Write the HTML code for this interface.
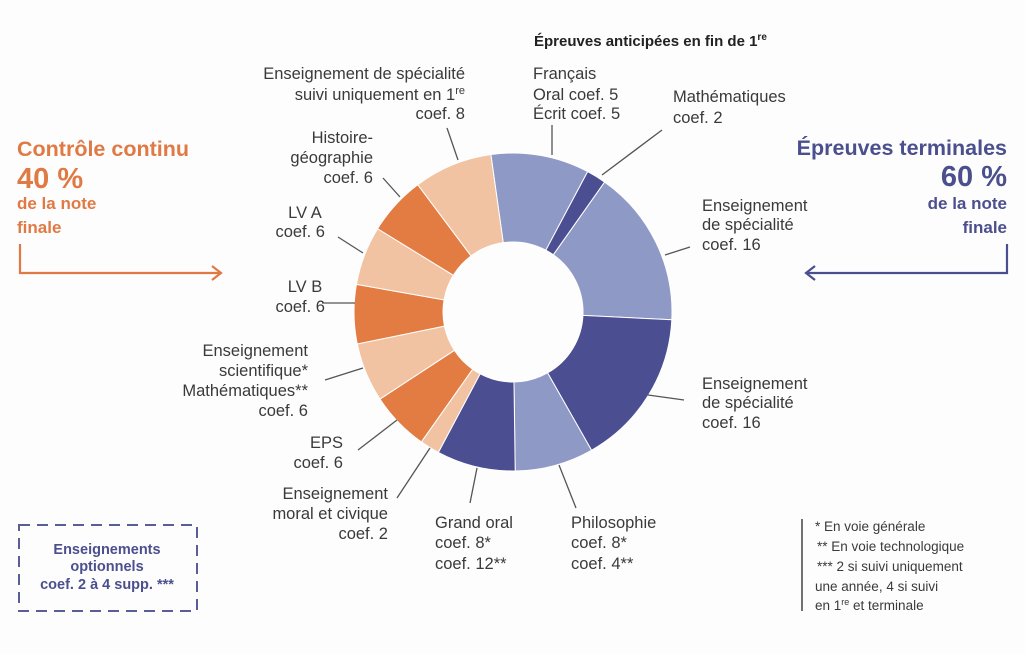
<!DOCTYPE html>
<html><head><meta charset="utf-8"><style>
html,body{margin:0;padding:0;background:#fdfdfd;}
svg{display:block;}
text{font-family:"Liberation Sans",sans-serif;}
.l{font-size:16.5px;fill:#3a3a3a;}
.f{font-size:13.5px;fill:#3a3a3a;}
.o{fill:#e07a44;font-weight:bold;}
.p{fill:#4b4f8e;font-weight:bold;}
</style></head><body>
<svg id="s" width="1025" height="654" viewBox="0 0 1025 654" xmlns="http://www.w3.org/2000/svg">
<g id="donut"></g>
<g stroke="#555" stroke-width="1.3" fill="none">
<line x1="447" y1="128" x2="458" y2="160"/>
<line x1="552" y1="125" x2="552" y2="155"/>
<line x1="662" y1="130" x2="602" y2="175"/>
<line x1="690" y1="247" x2="665" y2="255"/>
<line x1="684" y1="400" x2="648" y2="395"/>
<line x1="576" y1="508" x2="559" y2="465"/>
<line x1="470" y1="503" x2="477" y2="468"/>
<line x1="397" y1="498" x2="430" y2="448"/>
<line x1="358" y1="450" x2="397" y2="420"/>
<line x1="325" y1="380" x2="363" y2="368"/>
<line x1="322" y1="303" x2="355" y2="303"/>
<line x1="338" y1="237" x2="363" y2="253"/>
<line x1="383" y1="178" x2="400" y2="197"/>
<polyline stroke="#e07a44" stroke-width="2.2" points="20,244 20,273 220,273"/>
<polyline stroke="#e07a44" stroke-width="2.2" points="212,266 221,273 212,280"/>
<polyline stroke="#4b4f8e" stroke-width="2.2" points="1007,244 1007,273 806,273"/>
<polyline stroke="#4b4f8e" stroke-width="2.2" points="815,266 806,273 815,280"/>
<line x1="802" y1="519" x2="802" y2="611" stroke="#444" stroke-width="1.5"/>
<rect x="19" y="525" width="178" height="86" stroke="#5a5e96" stroke-width="2" stroke-dasharray="11,7"/>
</g>

<text x="534" y="46" style="font-size:15px;font-weight:bold;fill:#222">Épreuves anticipées en fin de 1<tspan font-size="10" dy="-6">re</tspan></text>

<g class="l">
<text x="465" y="79" text-anchor="end">Enseignement de spécialité</text>
<text x="465" y="100" text-anchor="end">suivi uniquement en 1<tspan font-size="11" dy="-6">re</tspan></text>
<text x="465" y="119" text-anchor="end">coef. 8</text>
<text x="533" y="79">Français</text>
<text x="533" y="100">Oral coef. 5</text>
<text x="533" y="119">Écrit coef. 5</text>
<text x="673" y="102">Mathématiques</text>
<text x="673" y="123">coef. 2</text>
<text x="373" y="143" text-anchor="end">Histoire-</text>
<text x="373" y="163" text-anchor="end">géographie</text>
<text x="373" y="183" text-anchor="end">coef. 6</text>
<text x="305" y="218" text-anchor="middle">LV A</text>
<text x="325" y="237" text-anchor="end">coef. 6</text>
<text x="305" y="292" text-anchor="middle">LV B</text>
<text x="325" y="312" text-anchor="end">coef. 6</text>
<text x="308" y="356" text-anchor="end">Enseignement</text>
<text x="308" y="376" text-anchor="end">scientifique*</text>
<text x="308" y="396" text-anchor="end">Mathématiques**</text>
<text x="308" y="416" text-anchor="end">coef. 6</text>
<text x="343" y="448" text-anchor="end">EPS</text>
<text x="343" y="468" text-anchor="end">coef. 6</text>
<text x="388" y="499" text-anchor="end">Enseignement</text>
<text x="388" y="519" text-anchor="end">moral et civique</text>
<text x="388" y="539" text-anchor="end">coef. 2</text>
<text x="435" y="528">Grand oral</text>
<text x="435" y="548">coef. 8*</text>
<text x="435" y="569">coef. 12**</text>
<text x="571" y="528">Philosophie</text>
<text x="571" y="548">coef. 8*</text>
<text x="571" y="569">coef. 4**</text>
<text x="702" y="211">Enseignement</text>
<text x="702" y="230">de spécialité</text>
<text x="702" y="250">coef. 16</text>
<text x="702" y="389">Enseignement</text>
<text x="702" y="408">de spécialité</text>
<text x="702" y="428">coef. 16</text>
</g>

<g class="f">
<text x="815" y="531">* En voie générale</text>
<text x="817" y="551">** En voie technologique</text>
<text x="817" y="571">*** 2 si suivi uniquement</text>
<text x="815" y="591">une année, 4 si suivi</text>
<text x="815" y="610">en 1<tspan font-size="9" dy="-5">re</tspan><tspan dy="5"> et terminale</tspan></text>
</g>

<text x="17" y="156" class="o" style="font-size:21.5px">Contrôle continu</text>
<text x="17" y="188" class="o" style="font-size:29px">40 %</text>
<text x="17" y="209" class="o" style="font-size:17px">de la note</text>
<text x="17" y="233" class="o" style="font-size:17px">finale</text>

<text x="1007" y="155" class="p" text-anchor="end" style="font-size:21.5px">Épreuves terminales</text>
<text x="1007" y="186" class="p" text-anchor="end" style="font-size:29px">60 %</text>
<text x="1007" y="209" class="p" text-anchor="end" style="font-size:17px">de la note</text>
<text x="1007" y="233" class="p" text-anchor="end" style="font-size:17px">finale</text>

<text x="107" y="554" class="p" text-anchor="middle" style="font-size:14.5px">Enseignements</text>
<text x="107" y="571" class="p" text-anchor="middle" style="font-size:14.5px">optionnels</text>
<text x="107" y="589" class="p" text-anchor="middle" style="font-size:14.5px">coef. 2 à 4 supp. ***</text>
</svg>
<script>
(function(){
var cx=513,cy=312,R=159,r=70;
var LB="#8e99c6",DB="#4b4f91",PE="#f1c3a2",OR="#e27c42";
var segs=[[10,LB],[2,DB],[16,LB],[16,DB],[8,LB],[8,DB],[2,PE],[6,OR],[6,PE],[6,OR],[6,PE],[6,OR],[8,PE]];
var a=-8,g=document.getElementById("donut"),h="";
function pt(rad,ang){var t=ang*Math.PI/180;return (cx+rad*Math.sin(t)).toFixed(2)+","+(cy-rad*Math.cos(t)).toFixed(2);}
segs.forEach(function(s){
 var b=a+s[0]*3.6,lg=(b-a)>180?1:0;
 h+='<path fill="'+s[1]+'" stroke="#fff" stroke-width="1" d="M'+pt(R,a)+' A'+R+','+R+' 0 '+lg+' 1 '+pt(R,b)+' L'+pt(r,b)+' A'+r+','+r+' 0 '+lg+' 0 '+pt(r,a)+' Z"/>';
 a=b;});
g.innerHTML=h;
})();
</script>
</body></html>
